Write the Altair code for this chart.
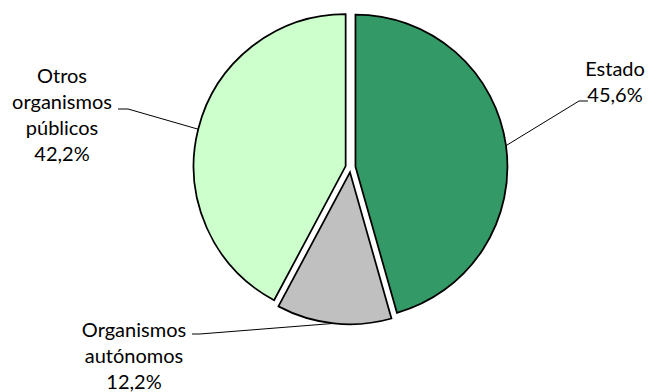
import altair as alt
import pandas as pd

# ---- data ----
categories = ["Estado", "Organismos autónomos", "Otros organismos públicos"]
label_lines = ["Estado", "Organismos\nautónomos", "Otros\norganismos\npúblicos"]
shares = [45.6, 12.2, 42.2]
colors = ["#339966", "#C0C0C0", "#CCFFCC"]

# ---- layout (pixel positions inside the view) ----
CX, CY, R, EXPLODE = 342.5, 159.3, 152, 5
label_x = [607, 126, 54]
label_y = [68, 329, 74.7]
elbow_x = [571, 192, 120]
elbow_y = [93, 326, 101]
end_x = [580, 184, 110]

df = pd.DataFrame({
    "category": categories,
    "order": list(range(len(categories))),
    "share": shares,
    "text": [l + "\n" + f"{s:.1f}".replace(".", ",") + "%" for l, s in zip(label_lines, shares)],
    "lx": label_x,
    "ly": label_y,
    "ex": elbow_x,
    "ey": elbow_y,
    "tx": end_x,
})

base = (
    alt.Chart(df)
    .transform_joinaggregate(total="sum(share)")
    .transform_window(cum="sum(share)", sort=[alt.SortField("order")], frame=[None, 0])
    .transform_calculate(a1="datum.cum / datum.total * 2 * PI")
    .transform_calculate(a0="(datum.cum - datum.share) / datum.total * 2 * PI")
    .transform_calculate(mid="(datum.a0 + datum.a1) / 2")
    .transform_calculate(cx=f"{CX} + {EXPLODE} * sin(datum.mid)")
    .transform_calculate(cy=f"{CY} - {EXPLODE} * cos(datum.mid)")
    .transform_calculate(ax=f"{CX} + {R + EXPLODE} * sin(datum.mid)")
    .transform_calculate(ay=f"{CY} - {R + EXPLODE} * cos(datum.mid)")
)

pie = base.mark_arc(radius=R, stroke="black", strokeWidth=1.75, strokeJoin="miter").encode(
    theta=alt.Theta("a0:Q", scale=None),
    theta2="a1:Q",
    x=alt.X("cx:Q", scale=None),
    y=alt.Y("cy:Q", scale=None),
    color=alt.Color("category:N", scale=alt.Scale(domain=categories, range=colors), legend=None),
)

lead1 = base.mark_rule(color="black", strokeWidth=1).encode(
    x=alt.X("ax:Q", scale=None), y=alt.Y("ay:Q", scale=None), x2="ex:Q", y2="ey:Q"
)
lead2 = base.mark_rule(color="black", strokeWidth=1).encode(
    x=alt.X("ex:Q", scale=None), y=alt.Y("ey:Q", scale=None), x2="tx:Q", y2="ey:Q"
)

labels = base.mark_text(
    font="Lato", fontSize=20, lineHeight=26, align="center", baseline="alphabetic",
    color="black", lineBreak="\n",
).encode(
    x=alt.X("lx:Q", scale=None), y=alt.Y("ly:Q", scale=None), text="text:N"
)

chart = (
    alt.layer(pie, lead1, lead2, labels)
    .properties(width=637, height=384, autosize=alt.AutoSizeParams(type="none"), padding=0)
    .configure_view(stroke=None)
)

chart.save("out.html", embed_options={"renderer": "svg", "actions": False})
